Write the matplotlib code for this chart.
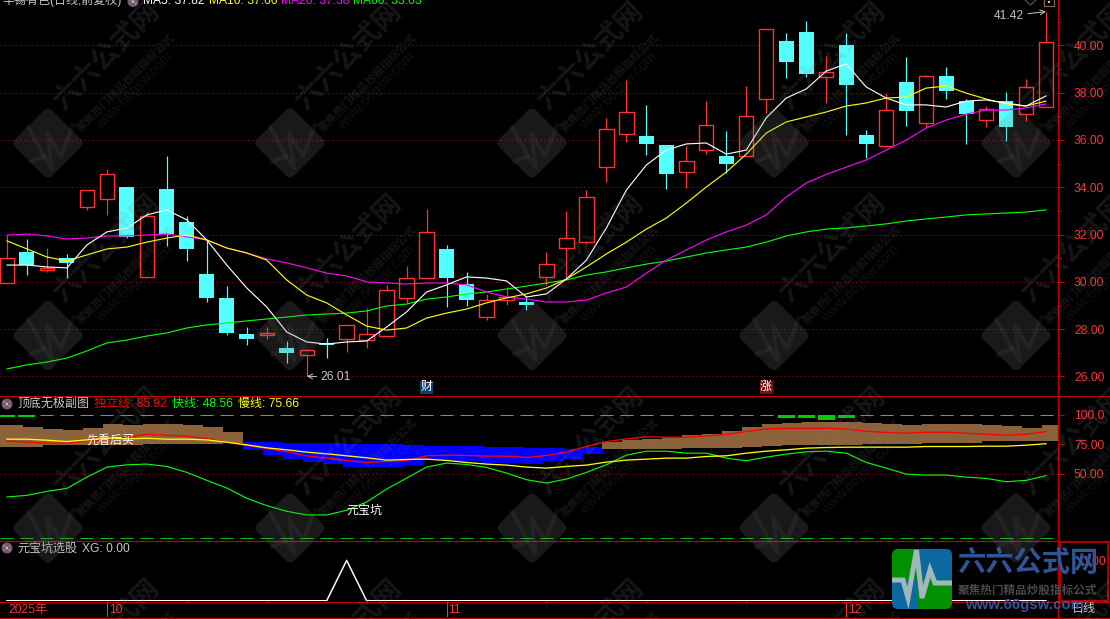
import numpy as np
import matplotlib
matplotlib.use("Agg")
import matplotlib.pyplot as plt
from matplotlib.patches import Rectangle, Circle, FancyBboxPatch
from matplotlib.ticker import FixedLocator
from matplotlib.transforms import Affine2D

plt.rcParams['font.family'] = ['Liberation Sans', 'Noto Sans CJK SC', 'DejaVu Sans']

# ---------------- data ----------------
opens  = [29.95,31.26,30.50,31.01,33.16,33.50,34.01,30.21,33.92,32.53,30.33,29.32,27.80,27.75,27.20,26.91,27.42,27.59,27.54,27.71,29.32,30.16,31.39,29.91,28.51,29.23,29.15,30.21,31.43,31.69,34.86,36.25,36.16,35.78,34.64,35.57,35.32,35.32,37.73,40.18,40.56,38.66,40.01,36.21,35.74,38.45,36.71,38.70,37.64,36.84,37.64,37.09,37.39]
highs  = [31.98,31.81,31.43,31.18,33.88,34.77,34.01,32.95,35.32,32.78,31.77,29.82,28.09,28.09,27.50,27.16,27.63,28.18,28.89,29.87,30.67,33.08,31.56,30.42,29.49,29.78,29.40,31.26,33.00,33.88,36.93,38.53,37.48,35.78,35.74,37.64,36.38,38.28,40.69,40.52,41.03,39.55,40.52,36.42,37.98,39.50,38.74,39.08,37.73,37.43,38.03,38.57,41.42]
lows   = [29.95,30.29,30.42,30.16,33.04,32.83,31.85,30.16,31.51,30.88,29.15,27.75,27.33,27.58,26.57,26.01,26.78,27.04,27.20,27.71,29.11,30.16,28.94,28.98,28.39,29.02,28.81,29.87,30.16,31.60,34.22,35.91,35.36,33.92,33.97,35.40,34.60,35.32,37.14,38.62,38.66,37.56,36.21,35.23,35.74,36.59,36.55,37.73,35.83,36.55,35.95,36.80,37.39]
closes = [31.01,30.71,30.59,30.80,33.88,34.56,31.90,32.78,32.02,31.39,29.32,27.84,27.58,27.84,26.99,27.12,27.33,28.18,27.80,29.66,30.16,32.11,30.16,29.23,29.23,29.36,29.02,30.75,31.85,33.59,36.46,37.18,35.83,34.56,35.11,36.63,34.98,37.01,40.69,39.29,38.79,38.87,38.32,35.83,37.26,37.22,38.70,38.07,37.09,37.31,36.55,38.24,40.14]
ma5  = [30.71,30.71,30.63,30.59,31.56,32.11,32.28,32.83,33.04,32.62,31.77,30.71,29.74,28.94,27.88,27.46,27.37,27.46,27.50,28.09,28.73,29.57,29.87,30.21,30.16,30.04,29.36,29.49,30.12,30.92,32.28,33.88,34.94,35.57,35.83,35.87,35.40,35.57,36.93,37.77,38.15,38.91,39.21,38.24,37.77,37.48,37.48,37.39,37.64,37.69,37.56,37.43,37.86]
ma10 = [31.73,31.39,31.05,30.88,31.14,31.39,31.47,31.68,31.85,31.98,31.77,31.43,31.22,30.92,30.08,29.44,29.11,28.60,28.13,27.96,28.05,28.47,28.68,28.85,29.11,29.32,29.49,29.74,30.12,30.63,31.18,31.68,32.23,32.70,33.33,34.01,34.64,35.40,36.29,36.76,36.97,37.18,37.43,37.56,37.77,37.81,38.19,38.28,37.98,37.73,37.52,37.43,37.64]
ma20 = [31.98,32.02,31.94,31.81,31.85,31.94,31.94,31.98,32.02,31.90,31.77,31.43,31.22,30.97,30.80,30.59,30.37,30.25,30.00,29.95,29.91,29.95,29.95,29.87,29.57,29.36,29.27,29.15,29.15,29.23,29.53,29.78,30.37,30.92,31.35,31.77,32.11,32.40,32.83,33.59,34.18,34.54,34.85,35.15,35.57,35.99,36.50,36.84,37.09,37.26,37.26,37.35,37.52]
ma60 = [26.32,26.49,26.61,26.78,27.08,27.42,27.54,27.71,27.84,28.05,28.18,28.26,28.35,28.43,28.51,28.60,28.64,28.68,28.77,28.98,29.06,29.27,29.36,29.49,29.57,29.70,29.82,29.95,30.08,30.29,30.42,30.59,30.75,30.88,31.05,31.22,31.35,31.47,31.68,31.94,32.11,32.23,32.28,32.36,32.45,32.57,32.66,32.74,32.83,32.87,32.91,32.95,33.04]
price_ticks = [26,28,30,32,34,36,38,40]
price_minor = [27,29,31,33,35,37,39,41]

band_top = [91.56,89.62,88.19,87.34,89.28,92.41,91.81,92.41,92.41,91.31,89.87,85.65,
            77.21,76.96,76.37,76.12,76.12,75.78,75.53,75.53,74.68,74.09,74.09,73.84,73.00,73.00,72.40,71.90,71.05,72.74,
            77.21,78.90,79.75,80.84,82.87,83.97,86.50,89.62,92.41,93.25,94.09,94.09,94.09,93.00,92.41,91.56,92.41,92.41,92.41,91.56,90.72,89.28,91.56]
band_bot = [73.25,73.25,74.68,74.68,74.68,74.68,74.68,75.53,75.53,75.53,75.53,76.62,
            70.46,66.24,62.87,60.34,58.65,56.12,56.12,56.12,57.21,62.02,61.18,61.18,59.49,59.49,58.65,60.59,62.87,67.34,
            71.31,71.31,71.31,71.56,71.90,72.15,72.40,72.74,73.84,74.43,74.68,74.68,74.94,75.27,75.53,75.53,76.12,76.12,76.62,78.06,78.06,78.06,78.31]
blue_first, blue_last = 12, 29
line_duli = [78.06,76.94,76.09,76.09,78.06,78.90,81.16,83.69,82.84,82.00,80.03,76.94,74.12,71.59,68.78,65.40,63.43,61.46,59.78,60.62,61.46,65.40,65.96,65.68,65.12,65.12,63.99,65.68,68.50,73.28,77.50,79.75,81.44,81.16,81.16,82.28,83.41,85.94,88.19,88.75,88.75,88.75,88.19,86.22,85.09,84.53,85.37,85.37,84.53,83.69,82.84,83.69,85.92]
line_man  = [79.47,79.47,78.62,77.50,78.90,80.31,79.75,80.31,79.47,79.47,78.90,76.94,74.69,72.15,70.47,68.50,67.09,65.40,63.71,61.75,62.31,62.59,61.46,59.78,58.37,57.53,55.84,54.99,56.40,57.53,60.06,61.75,62.59,63.43,63.43,64.84,65.40,67.65,69.34,70.47,71.87,72.43,72.72,72.72,72.72,72.72,73.28,73.28,73.28,73.56,73.56,74.40,75.66]
line_kuai = [30.52,31.92,35.30,37.83,47.40,55.84,57.81,58.37,56.40,51.34,44.59,38.12,29.40,23.21,18.42,15.33,15.33,19.27,26.30,37.27,46.56,55.84,59.21,58.09,55.56,50.78,45.15,42.34,45.71,51.34,57.81,65.97,69.34,69.34,67.65,67.65,63.43,61.18,64.28,66.81,68.78,69.34,67.65,59.78,54.99,49.93,49.09,49.09,47.40,46.27,43.46,44.59,48.56]
top_stick_idx = [0, 1, 39, 40, 41, 42]
top_stick_low = [98.0, 98.0, 97.6, 97.0, 96.0, 97.0]
xg = [0]*17 + [1] + [0]*35
month_idx = [5, 22, 42]
month_labels = ['10', '11', '12']
minor_date_idx = [9, 13, 18, 27, 32, 37]

# ---------------- layout ----------------
W, H = 1110, 619
fig = plt.figure(figsize=(W/100, H/100), dpi=100, facecolor='black')
PX = 0.72
FS = 8.64
STEP = 19.98
X0 = 7.0
xlim = ((0 - X0)/STEP, (1058 - X0)/STEP)
AXC = '#C00000'
LBL = '#FF3232'
RED = '#FF3232'
CYAN = '#54FFFF'

def panel(y0, y1):
    a = fig.add_axes([0, 1 - y1/H, 1058/W, (y1 - y0)/H], facecolor='black')
    a.set_xlim(*xlim)
    a.xaxis.set_visible(False)
    for s in ['left', 'top', 'bottom']:
        a.spines[s].set_visible(False)
    a.spines['right'].set_color(AXC)
    a.spines['right'].set_linewidth(PX*1.4)
    a.yaxis.tick_right()
    return a

x = np.arange(len(closes))
o, h, l, c = map(np.array, (opens, highs, lows, closes))
up = c >= o

# ---------------- main ----------------
ax = panel(0, 395)
ax.set_ylim(25.217, 41.914)
ax.yaxis.set_major_locator(FixedLocator(price_ticks))
ax.set_yticklabels([f'{v:.2f}' for v in price_ticks], color=LBL, fontsize=FS)
ax.yaxis.set_minor_locator(FixedLocator(price_minor))
ax.tick_params(axis='y', which='major', length=5*PX*1.2, width=PX, color=AXC, pad=7.2)
ax.tick_params(axis='y', which='minor', length=3*PX, width=PX, color=AXC)
ax.hlines(price_ticks, *xlim, color='#C00000', lw=PX, linestyles=[(0, (1, 3))], zorder=1)
# wicks
ax.vlines(x[up], l[up], np.minimum(o, c)[up], color=RED, lw=PX*1.2, zorder=2)
ax.vlines(x[up], np.maximum(o, c)[up], h[up], color=RED, lw=PX*1.2, zorder=2)
ax.vlines(x[~up], l[~up], h[~up], color=CYAN, lw=PX*1.2, zorder=2)
ax.bar(x[up], (c - o)[up], bottom=o[up], width=0.72, facecolor='black', edgecolor=RED, linewidth=PX*1.4, zorder=3)
ax.bar(x[~up], (o - c)[~up], bottom=c[~up], width=0.75, facecolor=CYAN, edgecolor=CYAN, linewidth=0, zorder=3)
for s, col in [(ma60, '#00FF00'), (ma20, '#FF00FF'), (ma10, '#FFFF00'), (ma5, '#FFFFFF')]:
    ax.plot(x, s, color=col, lw=PX*1.15, zorder=4)
ax.annotate('41.42', xy=(52, 41.42), xytext=(-22, -4), textcoords='offset pixels', color='#C4C4C4',
            fontsize=FS, ha='right', va='center', arrowprops=dict(arrowstyle='->', color='#C4C4C4', lw=PX, shrinkA=1, shrinkB=0), zorder=6)
ax.annotate('26.01', xy=(15, 26.01), xytext=(14, -1), textcoords='offset pixels', color='#C4C4C4',
            fontsize=FS, ha='left', va='center', arrowprops=dict(arrowstyle='->', color='#C4C4C4', lw=PX, shrinkA=1, shrinkB=0), zorder=6)

# ---------------- indicator ----------------
ax2 = panel(395, 540)
ax2.set_ylim(-5.9, 116.9)
ticks2 = [50, 75, 100]
ax2.yaxis.set_major_locator(FixedLocator(ticks2))
ax2.set_yticklabels(['50.00', '75.00', '100.0'], color=LBL, fontsize=FS)
ax2.tick_params(axis='y', length=5*PX*1.2, width=PX, color=AXC, pad=7.2)
bt, bb = np.array(band_top), np.array(band_bot)
is_blue = (x >= blue_first) & (x <= blue_last)
OFF = 0.3
ax2.bar(x[~is_blue] + OFF, (bt - bb)[~is_blue], bottom=bb[~is_blue], width=1.01, color='#8C623A', linewidth=0, zorder=2)
ax2.bar(x[0] + OFF - 1, bt[0] - bb[0], bottom=bb[0], width=1.01, color='#8C623A', linewidth=0, zorder=2)
ax2.bar(x[is_blue] + OFF, (bt - bb)[is_blue], bottom=bb[is_blue], width=1.01, color='#0000FF', linewidth=0, zorder=1.5)
ax2.hlines([50], *xlim, color='#C00000', lw=PX, linestyles=[(0, (1, 3))], zorder=1)
ax2.hlines([100], *xlim, color='#00E000', lw=PX, linestyles=[(0, (13, 7))], zorder=1)
ax2.hlines([-4], *xlim, color='#00C000', lw=PX, linestyles=[(0, (13, 7))], zorder=1)
ax2.bar(np.array(top_stick_idx), 100 - np.array(top_stick_low), bottom=top_stick_low, width=0.85, color='#00CC00', linewidth=0, zorder=3)
ax2.plot(x, line_kuai, color='#00FF00', lw=PX*1.15, zorder=4)
ax2.plot(x, line_duli, color='#FF0000', lw=PX*1.3, zorder=4)
ax2.plot(x, line_man, color='#FFFF00', lw=PX*1.3, zorder=5)
ax2.text(5.2, 78.0, '先看后买', color='white', fontsize=FS, ha='center', va='center', zorder=6)
ax2.text(17.9, 19.0, '元宝坑', color='white', fontsize=FS, ha='center', va='center', zorder=6)

# ---------------- XG ----------------
ax3 = panel(540, 601)
ax3.set_ylim(-0.007, 1.505)
ax3.yaxis.set_major_locator(FixedLocator([1]))
ax3.set_yticklabels(['1.00'], color=LBL, fontsize=FS)
ax3.tick_params(axis='y', length=0, pad=17)
ax3.plot(x, xg, color='white', lw=1.5*PX, clip_on=False, zorder=5)

# ---------------- date row ----------------
ax4 = fig.add_axes([0, 1 - 617/H, 1058/W, 16/H], facecolor='black')
ax4.set_xlim(*xlim)
ax4.set_ylim(0, 1)
ax4.set_yticks([])
ax4.set_xticks([])
for s in ['left', 'top', 'bottom']:
    ax4.spines[s].set_visible(False)
ax4.spines['right'].set_color(AXC)
ax4.spines['right'].set_linewidth(PX*1.4)
ax4.vlines(month_idx, 0, 1, color=RED, lw=PX)
ax4.vlines(minor_date_idx, 0.85, 1, color=RED, lw=PX)
ax4.text(0.05, 0.45, '2025年', color=LBL, fontsize=FS, ha='left', va='center')
for m, lab in zip(month_idx, month_labels):
    ax4.text(m + 0.1, 0.45, lab, color=LBL, fontsize=FS, ha='left', va='center')

# ---------------- overlay (pixel coordinates) ----------------
ov = fig.add_axes([0, 0, 1, 1], facecolor='none', zorder=10)
ov.set_xlim(0, W)
ov.set_ylim(H, 0)
ov.axis('off')

def T(px, py, s, col, **kw):
    kw.setdefault('fontsize', FS)
    kw.setdefault('va', 'center')
    ov.text(px, py, s, color=col, clip_on=True, **kw)

# separators
for yy in (395.5, 540.5, 601.5, 617.5):
    ov.plot([0, W], [yy, yy], color=AXC, lw=PX*1.2, zorder=2)
ov.add_patch(Rectangle((1059.5, 541.5), 48.5, 59, fill=False, edgecolor='#A80000', lw=2*PX, zorder=2))

# headers
T(2, 0.5, '华锡有色(日线,前复权)', '#C8C8C8')
T(143, 0.5, 'MA5: 37.82', '#FFFFFF')
T(209, 0.5, 'MA10: 37.66', '#FFFF00')
T(281, 0.5, 'MA20: 37.38', '#FF00FF')
T(353, 0.5, 'MA60: 33.03', '#00FF00')
T(17, 404, '顶底无极副图', '#C8C8C8')
T(94, 404, '独立线: 85.92', '#FF0000')
T(172, 404, '快线: 48.56', '#00FF00')
T(238, 404, '慢线: 75.66', '#FFFF00')
T(17, 548.5, '元宝坑选股', '#C8C8C8')
T(82, 548.5, 'XG: 0.00', '#C8C8C8')
T(1072, 609, '日线', '#C8C8C8', zorder=8)

def icon(cx, cy):
    ov.add_patch(Circle((cx, cy), 5.5, facecolor='#6E5A6E', edgecolor='none', zorder=3))
    for (dx, dy, col) in [(-2.5, -2, '#C08040'), (2.5, -2, '#8060C0'), (-2.5, 2, '#8060C0'), (2.5, 2, '#C08040'), (0, 0, '#C8C8C8')]:
        ov.add_patch(Circle((cx + dx, cy + dy), 1.2, facecolor=col, edgecolor='none', zorder=4))
icon(133, 1.5); icon(7, 404); icon(7, 548)

# small top-right icons
ov.plot([1025, 1030.5, 1036], [0, 5, 0], color='#6E5A4A', lw=PX)
ov.add_patch(Rectangle((1043.5, -1), 10, 6.5, fill=False, edgecolor='#8C6A4A', lw=1.2*PX))
ov.add_patch(Rectangle((1048, 1), 2, 2, facecolor='#C8C8C8', edgecolor='none'))

# event tags
def tag(px0, s, bg):
    ov.add_patch(Rectangle((px0, 381), 13, 13, facecolor=bg, edgecolor='none', zorder=3))
    T(px0 + 6.5, 387.3, s, 'white', ha='center', zorder=4)
tag(420, '财', '#123E6E')
tag(759.5, '涨', '#7A1010')

# watermark
WM = (0.5, 0.5, 0.5)
PULSE_A = [(-18, 19), (-4, 13), (-20, -16)]
PULSE_B = [(-4, 13), (4, 25), (-1, -10), (13, 13), (25, -18)]
for r in range(-1, 4):
    for k in range(0, 5):
        cx, cy = 48 + 242*k, 143 + 192.5*r
        s = 52
        rot = Affine2D().rotate_deg_around(cx, cy, 45) + ov.transData
        ov.add_patch(FancyBboxPatch((cx - s/2, cy - s/2), s, s, boxstyle='round,pad=0,rounding_size=6',
                                    transform=rot, facecolor=WM, edgecolor='none', alpha=0.2, zorder=5))
        for pulse in (PULSE_A, PULSE_B):
            px_, py_ = zip(*pulse)
            ov.plot(np.array(px_) + cx, np.array(py_) + cy, color=WM, lw=3, alpha=0.1, zorder=5, clip_on=True)
        ov.text(cx + 59, cy - 86, '六六公式网', color=WM, alpha=0.17, fontsize=20, fontweight='bold',
                rotation=45, rotation_mode='anchor', ha='center', va='center', zorder=5, clip_on=True)
        ov.text(cx + 77, cy - 61, '聚焦热门精品炒股指标公式', color=WM, alpha=0.17, fontsize=8, fontweight='bold',
                rotation=45, rotation_mode='anchor', ha='center', va='center', zorder=5, clip_on=True)
        ov.text(cx + 86, cy - 52, 'www.66gsw.com', color=WM, alpha=0.13, fontsize=10,
                rotation=45, rotation_mode='anchor', ha='center', va='center', zorder=5, clip_on=True)

# logo
clip = FancyBboxPatch((892, 549), 60, 60, boxstyle='round,pad=0,rounding_size=6', facecolor='none', edgecolor='none', zorder=7)
ov.add_patch(clip)
for (x0, y0, w, hh, col) in [(892, 549, 25, 31, '#009000'), (917, 549, 35, 31, '#0B68A0'), (892, 580, 25, 29, '#0B68A0'), (917, 580, 35, 29, '#009000')]:
    p = Rectangle((x0, y0), w, hh, facecolor=col, edgecolor='none', zorder=7)
    ov.add_patch(p)
    p.set_clip_path(clip)
pl, = ov.plot([892, 903, 908, 916.5, 922, 930, 935, 952], [580, 580, 598, 550, 598, 570, 583, 583],
              color='#A0B8B8', lw=3.6, solid_joinstyle='miter', zorder=7.5)
pl.set_clip_path(clip)
T(1027.5, 563.5, '六六公式网', '#2F5597', fontsize=20.3, ha='center', fontweight='bold', zorder=8)
T(1027.5, 590.5, '聚焦热门精品炒股指标公式', '#4A4A4A', fontsize=8.35, ha='center', fontweight='bold', zorder=8)
T(1024.5, 605.5, 'www.66gsw.com', '#2F5597', fontsize=10.8, ha='center', fontweight='bold', zorder=8)

fig.savefig('out.png', dpi=100, facecolor='black')
